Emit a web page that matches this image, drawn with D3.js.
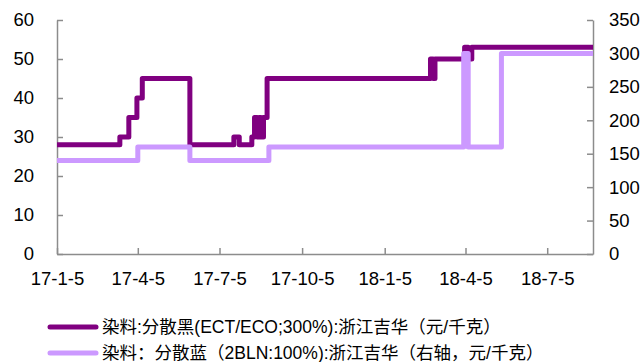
<!DOCTYPE html>
<html>
<head>
<meta charset="utf-8">
<script src="https://cdn.jsdelivr.net/npm/d3@7"></script>
<style>
  body { margin: 0; background: #fff; }
  svg { display: block; font-family: "Liberation Sans", Arial, "Noto Sans CJK SC", sans-serif; }
  .axis path, .axis line { stroke: #8c8c8c; stroke-width: 1.5; }
  .axis text { fill: #000; font-size: 18.5px; font-family: "Liberation Sans", Arial, sans-serif; }
</style>
</head>
<body>
<svg id="chart" width="644" height="362"></svg>
<script>
// series 1: 分散黑 (left axis), step change points
var blackDates = ["2017-01-05", "2017-03-16", "2017-03-26", "2017-04-04", "2017-04-10", "2017-06-02",
  "2017-07-21", "2017-07-27", "2017-08-10", "2017-08-13", "2017-08-16", "2017-08-18", "2017-08-20",
  "2017-08-23", "2017-08-27", "2018-02-25", "2018-02-28", "2018-03-02", "2018-04-04", "2018-04-08",
  "2018-04-12", "2018-08-25"];
var blackValues = [28, 30, 35, 40, 45, 28, 30, 28, 30, 35, 30, 35, 30, 35, 45, 50, 45, 50, 53, 50, 53, 53];

// series 2: 分散蓝 (right axis)
var blueDates = ["2017-01-05", "2017-04-05", "2017-06-02", "2017-08-29", "2018-04-03", "2018-04-08",
  "2018-05-15", "2018-08-25"];
var blueValues = [140, 160, 140, 160, 300, 160, 300, 300];

var xTickLabels = ["17-1-5", "17-4-5", "17-7-5", "17-10-5", "18-1-5", "18-4-5", "18-7-5"];
var leftTicks = [0, 10, 20, 30, 40, 50, 60];
var rightTicks = [0, 50, 100, 150, 200, 250, 300, 350];
var legendNames = ["染料:分散黑(ECT/ECO;300%):浙江吉华（元/千克）",
  "染料：分散蓝（2BLN:100%):浙江吉华（右轴，元/千克）"];
var colors = ["#800080", "#cc99ff"];

var svg = d3.select("#chart");
var plotLeft = 57, plotRight = 593, plotTop = 20, plotBottom = 254;
var parse = d3.utcParse("%Y-%m-%d");
var parseTick = d3.utcParse("%y-%m-%d");

var x = d3.scaleUtc()
    .domain([parse("2017-01-05"), parse("2018-08-25")])
    .range([plotLeft, plotRight]);
var yL = d3.scaleLinear().domain([0, 60]).range([plotBottom, plotTop]);
var yR = d3.scaleLinear().domain([0, 350]).range([plotBottom, plotTop]);

var tickDates = xTickLabels.map(function (s) { return parseTick(s); });

svg.append("g").attr("class", "axis")
    .attr("transform", "translate(" + plotLeft + ",0)")
    .call(d3.axisLeft(yL).tickValues(leftTicks).tickSize(-6).tickSizeOuter(0).tickPadding(23));

svg.append("g").attr("class", "axis")
    .attr("transform", "translate(" + plotRight + ",0)")
    .call(d3.axisRight(yR).tickValues(rightTicks).tickSize(-6).tickSizeOuter(0).tickPadding(16));

svg.append("g").attr("class", "axis")
    .attr("transform", "translate(0," + plotBottom + ")")
    .call(d3.axisBottom(x).tickValues(tickDates).tickSize(-6).tickSizeOuter(0).tickPadding(18)
        .tickFormat(function (d, i) { return xTickLabels[i]; }));

function toPoints(dates, values) {
    return dates.map(function (d, i) { return { date: parse(d), value: values[i] }; });
}

var lineL = d3.line().curve(d3.curveStepAfter)
    .x(function (d) { return x(d.date); })
    .y(function (d) { return yL(d.value); });
var lineR = d3.line().curve(d3.curveStepAfter)
    .x(function (d) { return x(d.date); })
    .y(function (d) { return yR(d.value); });

svg.append("path")
    .datum(toPoints(blackDates, blackValues))
    .attr("d", lineL)
    .attr("fill", "none")
    .attr("stroke", colors[0])
    .attr("stroke-width", 5)
    .attr("stroke-linejoin", "round");

svg.append("path")
    .datum(toPoints(blueDates, blueValues))
    .attr("d", lineR)
    .attr("fill", "none")
    .attr("stroke", colors[1])
    .attr("stroke-width", 5)
    .attr("stroke-linejoin", "round");

// legend
var legend = svg.append("g");
legendNames.forEach(function (name, i) {
    var ly = 327 + i * 26;
    legend.append("line")
        .attr("x1", 50).attr("x2", 96)
        .attr("y1", ly).attr("y2", ly)
        .attr("stroke", colors[i])
        .attr("stroke-width", 5)
        .attr("stroke-linecap", "round");
    legend.append("text")
        .attr("x", 102).attr("y", ly).attr("dy", "0.35em")
        .attr("font-size", "17.5px")
        .attr("fill", "#000")
        .text(name);
});
</script>
</body>
</html>
